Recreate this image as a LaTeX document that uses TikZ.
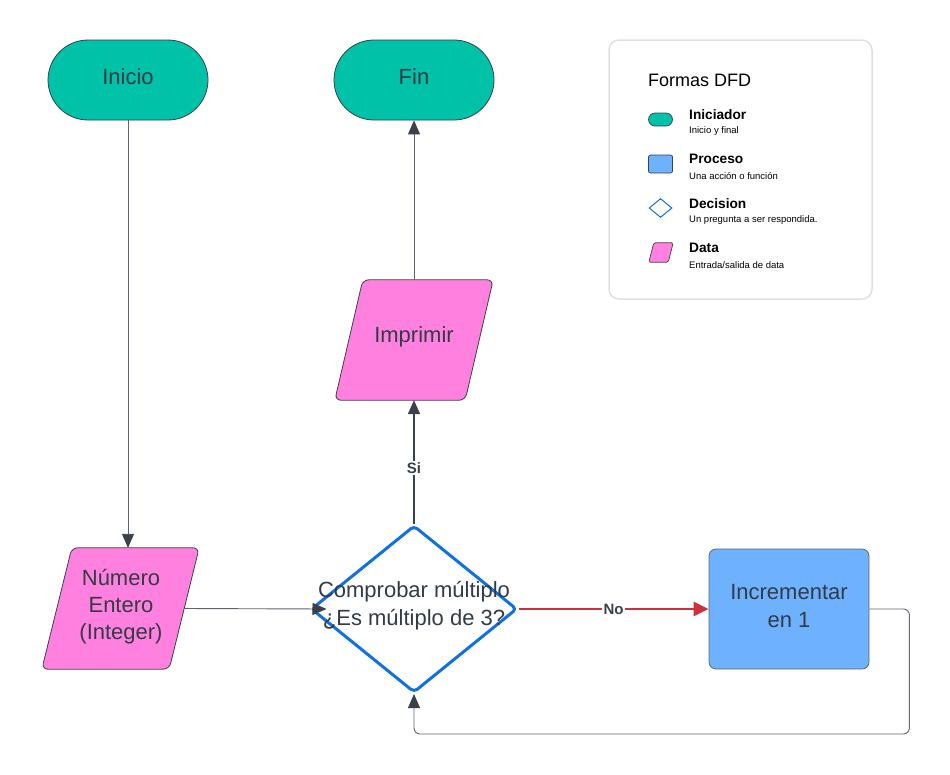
\documentclass[tikz,border=0pt]{standalone}
\usepackage{fontspec}
\setmainfont{Liberation Sans}
\usetikzlibrary{arrows.meta,shapes.geometric,calc}

\definecolor{teal}{HTML}{00C2A8}
\definecolor{datapink}{HTML}{FF80DF}
\definecolor{procblue}{HTML}{6DB1FF}
\definecolor{decblue}{HTML}{1071E5}
\definecolor{ink}{HTML}{333B45}
\definecolor{wire}{HTML}{5F656E}
\definecolor{head}{HTML}{3A414A}
\definecolor{nored}{HTML}{D02F3C}
\definecolor{frame}{HTML}{DEE0E4}

\tikzset{
  x=1pt, y=-1pt,
  bigtext/.style={font=\fontsize{22}{27}\selectfont, text=ink, align=center},
  terminal/.style={rectangle, rounded corners=40pt, minimum width=160pt,
    minimum height=80pt, fill=teal, draw=head, line width=0.8pt},
  process/.style={rectangle, rounded corners=7pt, minimum width=160pt,
    minimum height=120pt, fill=procblue, draw=head!80, line width=0.8pt},
  anchorbox/.style={rectangle, inner sep=0pt},
  datashape/.style={fill=datapink, draw=head, line width=0.8pt, rounded corners=6pt},
  decision/.style={diamond, inner sep=0pt, minimum width=206pt, minimum height=167pt,
    draw=decblue, line width=3pt, rounded corners=4pt, fill=white},
  thinflow/.style={draw=wire, line width=0.9pt,
    -{Triangle[length=14pt,width=12pt,color=head]}},
  thickflow/.style={draw=head, line width=2pt,
    -{Triangle[length=14pt,width=12pt]}},
  noflow/.style={draw=nored, line width=2.5pt,
    -{Triangle[length=15pt,width=14pt]}},
  edgelabel/.style={font=\bfseries\fontsize{15}{18}\selectfont, text=head,
    fill=white, inner sep=1.5pt},
  legtitle/.style={font=\bfseries\fontsize{13.7}{16}\selectfont, anchor=west, text=black, inner sep=0pt},
  legsub/.style={font=\fontsize{9.5}{11}\selectfont, anchor=west, text=black, inner sep=0pt},
}

\begin{document}
\begin{tikzpicture}
\useasboundingbox (0,0) rectangle (950,774);

% terminals
\node[terminal] (inicio) at (128,80) {};
\node[bigtext] (iniciotext) at (128,77) {Inicio};
\node[terminal] (fin) at (414,80) {};
\node[bigtext] (fintext) at (414,77) {Fin};

% data shapes: invisible anchor boxes with a slanted outline around them
\node[anchorbox, minimum width=127pt, minimum height=121pt] (num) at (120.5,608.5) {};
\path[datashape] ($(num.south west)+(-15,0)$) -- ($(num.north west)+(15,0)$)
  -- ($(num.north east)+(15,0)$) -- ($(num.south east)+(-15,0)$) -- cycle;
\node[bigtext] (numtext) at (121,607) {Número\\Entero\\(Integer)};

\node[anchorbox, minimum width=130pt, minimum height=120pt] (print) at (414,340) {};
\path[datashape] ($(print.south west)+(-14,0)$) -- ($(print.north west)+(14,0)$)
  -- ($(print.north east)+(14,0)$) -- ($(print.south east)+(-14,0)$) -- cycle;
\node[bigtext] (printtext) at (414,337) {Imprimir};

% decision
\node[decision] (dec) at (414,609) {};
\node[bigtext, font=\fontsize{22}{28}\selectfont] (dectext) at (414,606) {Comprobar múltiplo\\¿Es múltiplo de 3?};

% process
\node[process] (inc) at (789,609) {};
\node[bigtext, font=\fontsize{22}{28}\selectfont] (inctext) at (789,606) {Incrementar\\en 1};

% connectors
\draw[thinflow] (inicio.south) -- (inicio.south |- num.north);
\draw[thinflow] (num.east) -- ($(dec.west)+(17,0)$);
\draw[thickflow] (dec.north) -- node[edgelabel, pos=0.45] (si) {Si} (print.south);
\draw[thinflow] (print.north) -- (fin.south);
\draw[noflow] (dec.east) -- node[edgelabel, pos=0.5] (no) {No} (inc.west);
\draw[thinflow, rounded corners=6pt] (inc.east) -- ++(40,0) |- ($(dec.south)+(0,40)$) -- (dec.south);

% legend panel
\node[rectangle, rounded corners=10pt, draw=frame, line width=1.5pt,
  minimum width=263pt, minimum height=259pt] (legend) at (740.5,169.5) {};
\node[font=\fontsize{18}{22}\selectfont, anchor=west, inner sep=0pt] (legtitle) at (648,80) {Formas DFD};

\node[rectangle, rounded corners=6.5pt, minimum width=24pt, minimum height=13pt,
  fill=teal, draw=head, line width=0.7pt] (icoterm) at (660.5,119.5) {};
\node[legtitle] (l1a) at (689,115) {Iniciador};
\node[legsub] (l1b) at (689,131) {Inicio y final};

\node[rectangle, rounded corners=2pt, minimum width=24pt, minimum height=18pt,
  fill=procblue, draw=head, line width=0.7pt] (icoproc) at (660.5,164) {};
\node[legtitle] (l2a) at (689,159) {Proceso};
\node[legsub] (l2b) at (689,176) {Una acción o función};

\node[diamond, inner sep=0pt, minimum width=23pt, minimum height=19pt,
  draw=decblue, line width=1pt, fill=white] (icodec) at (660.5,208) {};
\node[legtitle] (l3a) at (689,204) {Decision};
\node[legsub] (l3b) at (689,220) {Un pregunta a ser respondida.};

\node[anchorbox, minimum width=19pt, minimum height=19pt] (icodata) at (661,252.5) {};
\path[fill=datapink, draw=head, line width=0.7pt, rounded corners=1.5pt]
  ($(icodata.south west)+(-2.5,0)$) -- ($(icodata.north west)+(2.5,0)$)
  -- ($(icodata.north east)+(2.5,0)$) -- ($(icodata.south east)+(-2.5,0)$) -- cycle;
\node[legtitle] (l4a) at (689,248) {Data};
\node[legsub] (l4b) at (689,265) {Entrada/salida de data};
\end{tikzpicture}
\end{document}
